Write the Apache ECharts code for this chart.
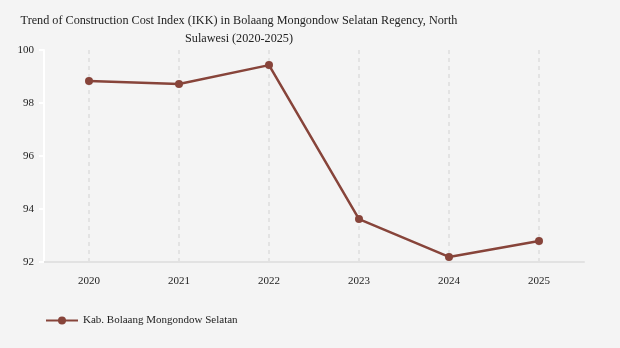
<!DOCTYPE html>
<html><head><meta charset="utf-8">
<script src="https://cdn.jsdelivr.net/npm/echarts@6/dist/echarts.min.js"></script>
<style>html,body{margin:0;padding:0;background:#f4f4f4}#c{width:620px;height:348px}</style>
</head><body><div id="c"></div>
<script>
const categories = ['2020','2021','2022','2023','2024','2025'];
const seriesName = 'Kab. Bolaang Mongondow Selatan';
const values = [98.83, 98.72, 99.43, 93.62, 92.19, 92.79];
const yTicks = {min: 92, max: 100, interval: 2};
const titleText = 'Trend of Construction Cost Index (IKK) in Bolaang Mongondow Selatan Regency, North\nSulawesi (2020-2025)';

const font = '"Liberation Serif", "Times New Roman", serif';
const chart = echarts.init(document.getElementById('c'), null, {renderer: 'canvas'});
chart.setOption({
  backgroundColor: '#f4f4f4',
  animation: false,
  title: {
    text: titleText, left: 234, top: 7, textAlign: 'center',
    textStyle: {fontFamily: font, fontSize: 12.2, fontWeight: 'normal', color: '#222', lineHeight: 18}
  },
  grid: {left: 44, right: 36, top: 50, bottom: 86, containLabel: false},
  legend: {
    left: 45, top: 315, padding: 0, itemWidth: 32, itemHeight: 10, itemGap: 10,
    textStyle: {fontFamily: font, fontSize: 11, color: '#222'},
    data: [seriesName]
  },
  xAxis: {
    type: 'category', data: categories, boundaryGap: true,
    axisLine: {lineStyle: {color: '#e2e2e2', width: 2}},
    axisTick: {show: false, alignWithLabel: true},
    axisLabel: {fontFamily: font, fontSize: 11, color: '#222', margin: 14},
    splitLine: {show: true, interval: 0, alignWithLabel: true, lineStyle: {color: '#dddddd', type: [4, 4], width: 1.5}}
  },
  yAxis: {
    type: 'value', min: yTicks.min, max: yTicks.max, interval: yTicks.interval,
    axisLine: {show: true, lineStyle: {color: '#ffffff', width: 2}},
    axisTick: {show: true, length: 5, lineStyle: {color: '#ffffff', width: 2}},
    axisLabel: {fontFamily: font, fontSize: 11, color: '#222', margin: 10},
    splitLine: {show: false}
  },
  series: [{
    name: seriesName, type: 'line', data: values,
    symbol: 'circle', symbolSize: 8,
    lineStyle: {color: '#87443a', width: 2.5},
    itemStyle: {color: '#87443a'}
  }]
});
</script></body></html>
